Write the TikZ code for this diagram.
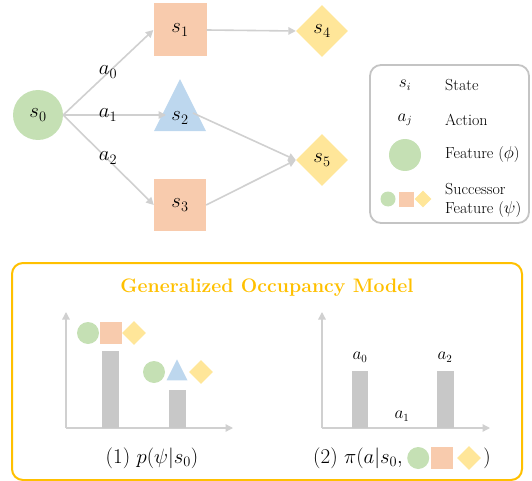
\documentclass[tikz,border=0pt]{standalone}
\usetikzlibrary{shapes.geometric,arrows.meta,positioning}
\definecolor{featgreen}{HTML}{C5E0B4}
\definecolor{featorange}{HTML}{F8CBAD}
\definecolor{featblue}{HTML}{BDD7EE}
\definecolor{featyellow}{HTML}{FFE699}
\definecolor{gomgold}{HTML}{FFC000}
\definecolor{linegray}{HTML}{D0D0D0}
\definecolor{boxgray}{HTML}{C4C4C4}
\definecolor{bargray}{HTML}{C8C8C8}
\begin{document}
\begin{tikzpicture}[x=1pt, y=-1pt,
        circ/.style={circle, fill=featgreen, inner sep=0pt, minimum size=#1},
        circ/.default=22pt,
        sq/.style={rectangle, fill=featorange, inner sep=0pt, minimum size=#1},
        sq/.default=22pt,
        tri/.style={isosceles triangle, isosceles triangle stretches, shape border rotate=90, fill=featblue, inner sep=0pt, minimum width=#1, minimum height=#1},
        tri/.default=21pt,
        dia/.style={diamond, fill=featyellow, inner sep=0pt, minimum size=#1},
        dia/.default=24pt,
        statefont/.style={font=\fontsize{20}{24}\selectfont},
        legtext/.style={font=\fontsize{16}{20}\selectfont, inner sep=0pt},
        lbl/.style={font=\fontsize{21}{25}\selectfont, inner sep=0pt},
        arrow/.style={-{Triangle[length=7.5pt, width=7.5pt]}, linegray, line width=1.6pt},
        bar/.style={fill=bargray}
    ]
        \useasboundingbox (0,0) rectangle (532,481);

        % States
        \node[circ=50pt, statefont] (s0) at (38,115) {$s_0$};
        \node[sq=53pt, statefont] (s1) at (180,30) {$s_1$};
        \node[tri=52pt, statefont] (s2) at (180,118) {$s_2$};
        \node[sq=52pt, statefont] (s3) at (180,205) {$s_3$};
        \node[dia=52pt, statefont] (s4) at (322,31) {$s_4$};
        \node[dia=52pt, statefont] (s5) at (322,160) {$s_5$};

        % Transitions
        \draw[arrow] (s0.east) -- (s1.west);
        \draw[arrow] (s0.east) -- (166,115);
        \draw[arrow] (s0.east) -- (s3.west);
        \draw[arrow] (s1.east) -- (s4.west);
        \draw[arrow] (193,113) -- (s5.west);
        \draw[arrow] (s3.east) -- (s5.west);

        % Actions
        \node[statefont, inner sep=0pt] (a0) at (108,72) {$a_0$};
        \node[statefont, inner sep=0pt] (a1) at (108,115) {$a_1$};
        \node[statefont, inner sep=0pt] (a2) at (108,158) {$a_2$};

        % Legend
        \draw[boxgray, line width=1.8pt, rounded corners=11pt] (370,65) rectangle (529,223);
        \node[legtext] (legs) at (405,85) {$s_i$};
        \node[legtext, anchor=west] (legstate) at (445,85) {State};
        \node[legtext] (lega) at (405,120) {$a_j$};
        \node[legtext, anchor=west] (legaction) at (445,120) {Action};
        \node[circ=32pt] (legphi) at (405,155) {};
        \node[legtext, anchor=west] (legfeat) at (445,155) {Feature ($\phi$)};
        \node[circ=15pt] (legc) at (388,199) {};
        \node[sq=15pt] (legq) at (406,199) {};
        \node[dia=17pt] (legd) at (423,199) {};
        \node[legtext, anchor=west, align=left] (legsucc) at (445,200) {Successor\\[-1pt]Feature ($\psi$)};

        % Generalized Occupancy Model
        \draw[gomgold, line width=2pt, rounded corners=11pt] (12,263) rectangle (522,480);
        \node[font=\fontsize{19.5}{23}\selectfont\bfseries, text=gomgold] (gom) at (267,288) {Generalized Occupancy Model};

        % (1) successor feature distribution
        \coordinate (o1) at (66,428);
        \draw[arrow, line width=1.3pt] (o1) -- (66,312);
        \draw[arrow, line width=1.3pt] (o1) -- (233,428);
        \fill[bar] (102,351) rectangle (119,428);
        \fill[bar] (169,390) rectangle (186,428);
        \node[circ] (p1c) at (88,333) {};
        \node[sq] (p1q) at (111,333) {};
        \node[dia] (p1d) at (134,333) {};
        \node[circ] (p2c) at (154,372) {};
        \node[tri] (p2t) at (177,374) {};
        \node[dia] (p2d) at (201,372) {};
        \node[lbl] (plbl) at (152,458) {(1) $p(\psi|s_0)$};

        % (2) policy
        \coordinate (o2) at (322,428);
        \draw[arrow, line width=1.3pt] (o2) -- (322,312);
        \draw[arrow, line width=1.3pt] (o2) -- (490,428);
        \fill[bar] (352,371) rectangle (368,428);
        \fill[bar] (437,371) rectangle (454,428);
        \node[legtext] (b0) at (360,357) {$a_0$};
        \node[legtext] (b1) at (402,416) {$a_1$};
        \node[legtext] (b2) at (445,357) {$a_2$};
        \node[lbl, anchor=west] (pitxt) at (313,458) {(2) $\pi(a|s_0,$};
        \node[circ, right=4pt of pitxt] (pic) {};
        \node[sq, right=1pt of pic] (piq) {};
        \node[dia, right=4pt of piq] (pid) {};
        \node[lbl, right=2pt of pid] (piend) {$)$};
    \end{tikzpicture}
\end{document}
